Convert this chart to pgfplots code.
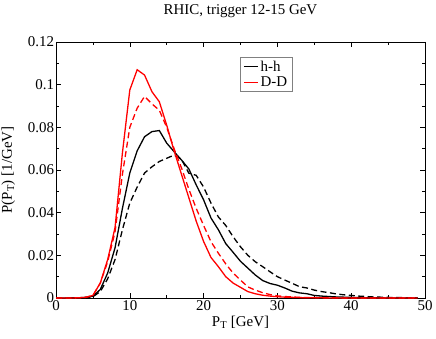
\documentclass[border=0pt]{standalone}
\usepackage{pgfplots}
\pgfplotsset{compat=1.18}
\usepackage{fontspec}
\setmainfont{Liberation Serif}

\begin{document}
\begin{tikzpicture}
\begin{axis}[
    name=ax,
    scale only axis,
    width=369bp, height=256bp,
    xmin=0, xmax=50, ymin=0, ymax=0.12,
    xtick={0,10,20,30,40,50},
    minor xtick={5,15,25,35,45},
    ytick={0,0.02,0.04,0.06,0.08,0.1,0.12},
    yticklabels={0,0.02,0.04,0.06,0.08,0.1,0.12},
    minor ytick={0.01,0.03,0.05,0.07,0.09,0.11},
    tick align=inside,
    major tick length=5bp, minor tick length=3bp,
    tick style={black, line width=0.5pt},
    axis line style={black, line width=0.7pt},
    ticklabel style={font=\fontsize{15}{17}\selectfont},
    /pgf/number format/assume math mode=true,
    yticklabel style={xshift=1.5bp},
    xticklabel style={yshift=1bp},
    legend style={at={(0.4986,0.941)}, anchor=north west, draw=gray, line width=0.6pt,
        font=\fontsize{15}{15}\selectfont, inner xsep=3pt, inner ysep=1.5pt, row sep=0pt,
        cells={anchor=west}},
    legend image code/.code={\draw[#1, line width=1.2pt] (0cm,0cm) -- (0.5cm,0cm);},
]
% h-h solid
\addplot[black, line width=1.3pt] coordinates {
(0,0) (1,0) (2,0.0001) (3,0.0001) (4,0.0003) (5,0.0008) (6,0.004) (7,0.0117)
(8,0.0235) (9,0.042) (10,0.0586) (11,0.069) (12,0.0756) (13,0.078) (14,0.0785)
(15,0.0726) (16,0.0686) (17,0.0647) (18,0.0605) (19,0.053) (20,0.046) (21,0.0375)
(22,0.032) (23,0.0255) (24,0.0214) (25,0.0172) (26,0.014) (27,0.0108) (28,0.0082)
(29,0.0068) (30,0.006) (31,0.0047) (32,0.0032) (33,0.0024) (34,0.002) (35,0.0012)
(36,0.0009) (37,0.0007) (38,0.0005) (39,0.0004) (40,0.0003) (41,0.0002) (42,0.0001)
(43,0.0001) (44,0.0001) (45,0) (46,0) (47,0) (48,0) (49,0)
};
\addlegendentry{h-h}
% h-h dashed
\addplot[black, line width=1.3pt, dash pattern=on 6bp off 3.5bp, forget plot] coordinates {
(0,0) (1,0) (2,0.0001) (3,0.0001) (4,0.0002) (5,0.0006) (6,0.003) (7,0.009)
(8,0.018) (9,0.032) (10,0.0445) (11,0.052) (12,0.0586) (13,0.0615) (14,0.064)
(15,0.0655) (16,0.067) (17,0.065) (18,0.0585) (19,0.0575) (20,0.052) (21,0.0445)
(22,0.038) (23,0.034) (24,0.0287) (25,0.024) (26,0.020) (27,0.017) (28,0.0147)
(29,0.0123) (30,0.010) (31,0.0084) (32,0.0069) (33,0.0053) (34,0.0047) (35,0.0037)
(36,0.003) (37,0.0025) (38,0.0019) (39,0.0015) (40,0.0012) (41,0.0009) (42,0.0007)
(43,0.0005) (44,0.0004) (45,0.0003) (46,0.0002) (47,0.0002) (48,0.0001) (49,0.0001)
};
% D-D solid
\addplot[red, line width=1.3pt] coordinates {
(0,0) (1,0) (2,0) (3,0.0001) (4,0.0003) (5,0.0012) (6,0.007) (7,0.018)
(8,0.033) (9,0.068) (10,0.0975) (11,0.107) (12,0.1045) (13,0.0967) (14,0.092)
(15,0.081) (16,0.069) (17,0.058) (18,0.047) (19,0.036) (20,0.0265) (21,0.019)
(22,0.0147) (23,0.010) (24,0.007) (25,0.005) (26,0.003) (27,0.002) (28,0.0013)
(29,0.0009) (30,0.0006) (31,0.0004) (32,0.0003) (33,0.0002) (34,0.0001) (35,0.0001)
(36,0.0001) (37,0) (38,0) (39,0) (40,0) (41,0) (42,0) (43,0) (44,0) (45,0)
(46,0) (47,0) (48,0) (49,0)
};
\addlegendentry{D-D}
% D-D dashed
\addplot[red, line width=1.3pt, dash pattern=on 6bp off 3.5bp, forget plot] coordinates {
(0,0) (1,0) (2,0) (3,0.0001) (4,0.0003) (5,0.0012) (6,0.007) (7,0.017)
(8,0.031) (9,0.058) (10,0.080) (11,0.089) (12,0.0945) (13,0.091) (14,0.088)
(15,0.080) (16,0.070) (17,0.061) (18,0.051) (19,0.042) (20,0.034) (21,0.0264)
(22,0.021) (23,0.016) (24,0.0117) (25,0.0084) (26,0.0052) (27,0.0037) (28,0.0025)
(29,0.0016) (30,0.001) (31,0.0007) (32,0.0005) (33,0.0003) (34,0.0002) (35,0.0002)
(36,0.0001) (37,0.0001) (38,0.0001) (39,0) (40,0) (41,0) (42,0) (43,0) (44,0)
(45,0) (46,0) (47,0) (48,0) (49,0)
};
\end{axis}
\node[anchor=base, font=\fontsize{15}{17}\selectfont] at ([yshift=27bp]ax.north) {RHIC, trigger 12-15 GeV};
\node[anchor=base, font=\fontsize{15}{17}\selectfont] at ([yshift=-28.5bp]ax.south) {P\textsubscript{T} [GeV]};
\node[anchor=base, rotate=90, font=\fontsize{15}{17}\selectfont] at ([xshift=-44bp]ax.west) {P(P\textsubscript{T}) [1/GeV]};
\pgfresetboundingbox
\path[use as bounding box] ([shift={(-56bp,-40bp)}]ax.south west) rectangle ([shift={(11bp,42bp)}]ax.north east);
\end{tikzpicture}
\end{document}
